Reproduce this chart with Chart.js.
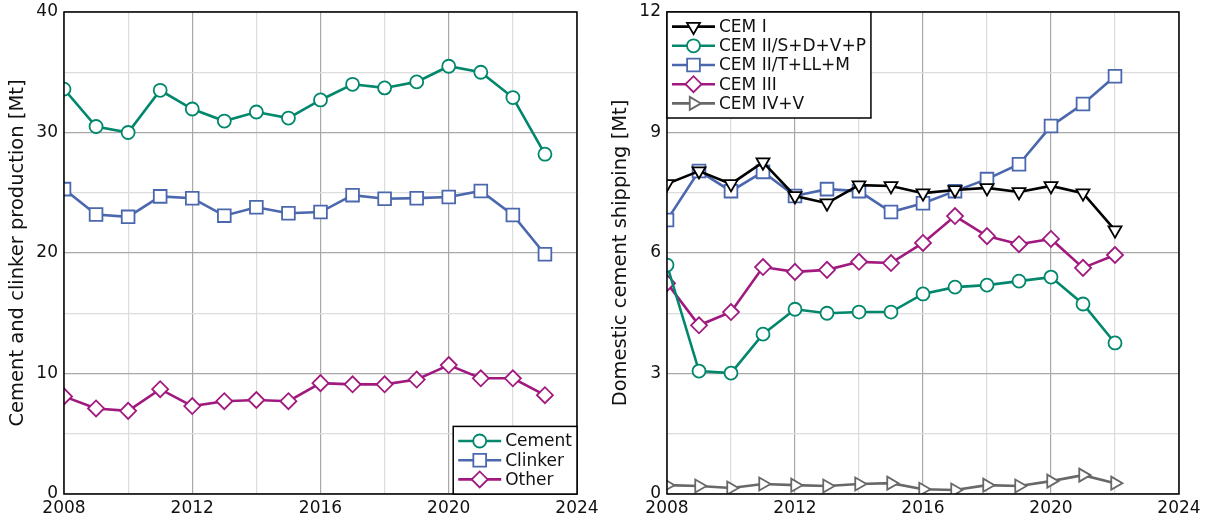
<!DOCTYPE html>
<html>
<head>
<meta charset="utf-8">
<script src="https://cdn.jsdelivr.net/npm/chart.js@4.4.0/dist/chart.umd.min.js"></script>
<style>
  body { margin: 0; background: #fff; }
  #wrap { position: relative; width: 1210px; height: 522px; }
  canvas { position: absolute; top: 0; }
</style>
</head>
<body>
<div id="wrap">
  <canvas id="prodChart" width="605" height="522" style="left:0"></canvas>
  <canvas id="shipChart" width="605" height="522" style="left:605px"></canvas>
</div>
<script>
// production, Mt
const prodYears = [2008, 2009, 2010, 2011, 2012, 2013, 2014, 2015, 2016, 2017, 2018, 2019, 2020, 2021, 2022, 2023];
const cement  = [33.6, 30.5, 30.0, 33.5, 31.95, 30.95, 31.7, 31.2, 32.7, 34.0, 33.7, 34.2, 35.5, 35.0, 32.9, 28.2];
const clinker = [25.3, 23.2, 23.0, 24.7, 24.55, 23.1, 23.8, 23.3, 23.4, 24.8, 24.5, 24.55, 24.65, 25.15, 23.15, 19.9];
const other   = [8.1, 7.1, 6.9, 8.7, 7.3, 7.7, 7.8, 7.7, 9.2, 9.1, 9.1, 9.5, 10.7, 9.6, 9.6, 8.2];

// domestic shipping by cement type, Mt
const shipYears = [2008, 2009, 2010, 2011, 2012, 2013, 2014, 2015, 2016, 2017, 2018, 2019, 2020, 2021, 2022];
const cemI   = [7.72, 8.04, 7.72, 8.26, 7.42, 7.24, 7.69, 7.67, 7.49, 7.57, 7.62, 7.52, 7.67, 7.49, 6.57];
const cemIIS = [5.7, 3.06, 3.01, 3.98, 4.6, 4.5, 4.53, 4.53, 4.98, 5.15, 5.2, 5.3, 5.4, 4.73, 3.76];
const cemIIT = [6.82, 8.04, 7.54, 8.02, 7.42, 7.59, 7.54, 7.02, 7.24, 7.54, 7.84, 8.21, 9.16, 9.71, 10.4];
const cemIII = [5.25, 4.2, 4.53, 5.65, 5.53, 5.58, 5.78, 5.75, 6.25, 6.92, 6.42, 6.22, 6.35, 5.63, 5.95];
const cemIVV = [0.22, 0.2, 0.15, 0.25, 0.22, 0.2, 0.25, 0.27, 0.12, 0.1, 0.22, 0.2, 0.32, 0.47, 0.27];

const GREEN = '#00876C', BLUE = '#4B67AD', PURPLE = '#A1197F', BLACK = '#000000', GREY = '#686868';
const FONT = '"DejaVu Sans", sans-serif';
const MAJOR = '#a8a8a8', MINOR = '#dcdcdc';

function pts(years, vals) {
  return years.map((y, i) => ({ x: y, y: vals[i] }));
}

function series(label, years, vals, color, style, radius, rotation) {
  return {
    label: label,
    data: pts(years, vals),
    borderColor: color,
    borderWidth: 2.6,
    pointStyle: style,
    pointRadius: radius,
    pointHoverRadius: radius,
    pointRotation: rotation || 0,
    pointBackgroundColor: '#ffffff',
    pointBorderColor: color,
    pointBorderWidth: 1.8,
    tension: 0
  };
}

// black frame round the plot area
const frame = {
  id: 'frame',
  afterDatasetsDraw(chart) {
    const { ctx, chartArea: a } = chart;
    ctx.save();
    ctx.strokeStyle = '#000';
    ctx.lineWidth = 1.5;
    ctx.strokeRect(a.left, a.top, a.right - a.left, a.bottom - a.top);
    ctx.restore();
  }
};

// legend box inside the plot, line + marker samples
const boxLegend = {
  id: 'boxLegend',
  afterDraw(chart, args, opts) {
    const { ctx, chartArea: a } = chart;
    const sets = chart.data.datasets;
    ctx.save();
    ctx.font = '17px ' + FONT;
    const textW = Math.max(...sets.map(d => ctx.measureText(d.label).width));
    const rowH = 19.2, pad = 5, sample = 43;
    const w = pad + sample + 4 + textW + pad;
    const h = sets.length * rowH + 2 * pad;
    const x0 = opts.corner === 'br' ? a.right - w : a.left;
    const y0 = opts.corner === 'br' ? a.bottom - h : a.top;
    ctx.fillStyle = '#fff';
    ctx.fillRect(x0, y0, w, h);
    ctx.strokeStyle = '#000';
    ctx.lineWidth = 1.5;
    ctx.strokeRect(x0, y0, w, h);
    sets.forEach((d, i) => {
      const cy = y0 + pad + rowH * (i + 0.5);
      const lx = x0 + pad;
      ctx.strokeStyle = d.borderColor;
      ctx.lineWidth = d.borderWidth;
      ctx.beginPath();
      ctx.moveTo(lx, cy);
      ctx.lineTo(lx + sample, cy);
      ctx.stroke();
      ctx.fillStyle = '#fff';
      ctx.lineWidth = d.pointBorderWidth;
      Chart.helpers.drawPoint(ctx, {
        pointStyle: d.pointStyle,
        rotation: d.pointRotation,
        radius: d.pointRadius,
        borderWidth: d.pointBorderWidth
      }, lx + sample / 2, cy);
      ctx.fillStyle = '#111';
      ctx.textBaseline = 'middle';
      ctx.textAlign = 'left';
      ctx.fillText(d.label, lx + sample + 4, cy + 1);
    });
    ctx.restore();
  }
};

function makeChart(id, datasets, cfg) {
  return new Chart(document.getElementById(id), {
    type: 'line',
    data: { datasets: datasets },
    options: {
      responsive: false,
      animation: false,
      layout: { padding: { top: 12, right: cfg.padRight, left: 0, bottom: 0 } },
      plugins: {
        legend: { display: false },
        tooltip: { enabled: false },
        boxLegend: { corner: cfg.corner }
      },
      scales: {
        x: {
          type: 'linear',
          min: 2008,
          max: 2024,
          border: { display: false },
          afterFit(scale) { scale.height = 28; },
          ticks: {
            stepSize: 2,
            padding: 4,
            autoSkip: false,
            maxRotation: 0,
            color: '#111',
            font: { family: FONT, size: 17 },
            callback: v => (v % 4 === 0 ? String(v) : '')
          },
          grid: {
            drawTicks: false,
            color: c => (c.tick && c.tick.value % 4 === 0 ? MAJOR : MINOR),
            lineWidth: 1.2
          }
        },
        y: {
          min: 0,
          max: cfg.yMax,
          border: { display: false },
          afterFit(scale) {
            scale.width = cfg.yWidth;
            scale.paddingTop = 0;
            scale.paddingBottom = 0;
          },
          title: {
            display: true,
            text: cfg.title,
            color: '#111',
            font: { family: FONT, size: 19.5 },
            padding: { top: cfg.titlePad, bottom: 0 }
          },
          ticks: {
            stepSize: cfg.yStep,
            padding: 6,
            color: '#111',
            font: { family: FONT, size: 17 },
            callback: v => (v % cfg.yMajor === 0 ? String(v) : '')
          },
          grid: {
            drawTicks: false,
            color: c => (c.tick && c.tick.value % cfg.yMajor === 0 ? MAJOR : MINOR),
            lineWidth: 1.2
          }
        }
      }
    },
    plugins: [frame, boxLegend]
  });
}

makeChart('prodChart', [
  series('Cement', prodYears, cement, GREEN, 'circle', 6.5),
  series('Clinker', prodYears, clinker, BLUE, 'rect', 9),
  series('Other', prodYears, other, PURPLE, 'rectRot', 8)
], {
  padRight: 28, yWidth: 64, yMax: 40, yStep: 5, yMajor: 10,
  title: 'Cement and clinker production [Mt]', titlePad: 6, corner: 'br'
});

makeChart('shipChart', [
  series('CEM I', shipYears, cemI, BLACK, 'triangle', 7.5, 180),
  series('CEM II/S+D+V+P', shipYears, cemIIS, GREEN, 'circle', 6.5),
  series('CEM II/T+LL+M', shipYears, cemIIT, BLUE, 'rect', 9),
  series('CEM III', shipYears, cemIII, PURPLE, 'rectRot', 8),
  series('CEM IV+V', shipYears, cemIVV, GREY, 'triangle', 7.5, 90)
], {
  padRight: 31, yWidth: 62, yMax: 12, yStep: 1.5, yMajor: 3,
  title: 'Domestic cement shipping [Mt]', titlePad: 4, corner: 'tl'
});
</script>
</body>
</html>
